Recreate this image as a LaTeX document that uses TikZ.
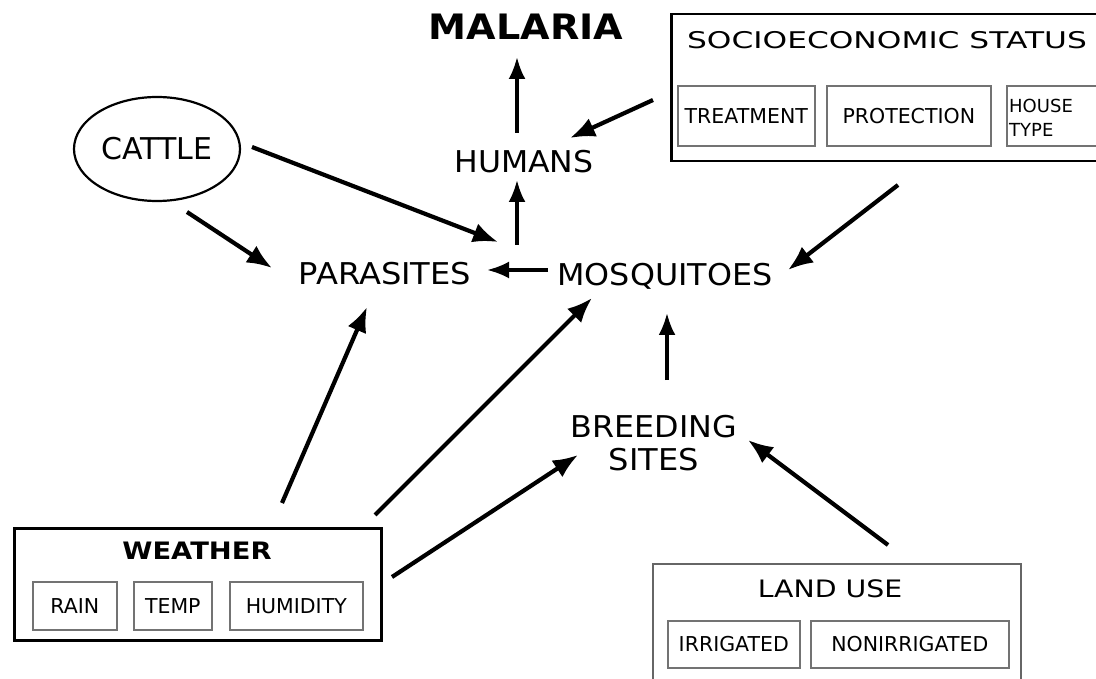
\documentclass[tikz,border=0pt]{standalone}
\usepackage{fontspec}
\setmainfont{DejaVu Sans}
\usepackage{graphicx}
\usetikzlibrary{arrows.meta,shapes.geometric,calc}
\begin{document}
\begin{tikzpicture}[x=1pt,y=-1pt,
  lbl/.style={inner sep=0pt, anchor=base, font=\fontsize{30}{33}\selectfont},
  small/.style={font=\fontsize{20.5}{24}\selectfont},
  outerbox/.style={draw, line width=2.5pt, inner sep=0pt, anchor=north west},
  innerbox/.style={draw=black!55, line width=1.6pt, inner sep=0pt, anchor=north west, small},
  arr/.style={line width=4.2pt, -{Latex[length=25pt,width=20pt]}},
  varr/.style={line width=3.4pt, -{Latex[length=22pt,width=17pt]}}]
\useasboundingbox (0,0) rectangle (1096,679);

% main labels
\node[lbl, font=\fontsize{35}{40}\selectfont\bfseries] (malaria) at (526,40) {\scalebox{1.09}[1]{MALARIA}};
\node[lbl] (humans) at (524,173) {\scalebox{1.05}[1]{HUMANS}};
\node[lbl] (parasites) at (385,285) {\scalebox{1.07}[1]{PARASITES}};
\node[lbl] (mosq) at (665,286) {\scalebox{1.06}[1]{MOSQUITOES}};
\node[inner sep=0pt, anchor=north, align=center, font=\fontsize{30}{33}\selectfont] (breeding) at (654,415) {\scalebox{1.06}[1]{BREEDING}\\\scalebox{1.07}[1]{SITES}};
\node[draw, ellipse, line width=2.2pt, minimum width=166pt, minimum height=104pt, inner sep=0pt, font=\fontsize{30}{33}\selectfont] (cattle) at (157,149) {CATTLE};

% socioeconomic status
\node[outerbox, minimum width=440pt, minimum height=147pt] (ses) at (670,13) {};
\node[lbl, font=\fontsize{23}{26}\selectfont] (sestitle) at (887,49) {\scalebox{1.36}[1]{SOCIOECONOMIC STATUS}};
\node[innerbox, minimum width=137pt, minimum height=60pt] (treat) at (677,85) {TREATMENT};
\node[innerbox, minimum width=164pt, minimum height=60pt] (prot) at (826,85) {PROTECTION};
\node[innerbox, minimum width=110pt, minimum height=60pt] (house) at (1006,85) {};
\node[inner sep=0pt, anchor=west, align=left, font=\fontsize{18}{24}\selectfont] (housetxt) at (1009,118) {HOUSE\\TYPE};

% weather
\node[outerbox, minimum width=367pt, minimum height=112pt] (weather) at (13,527) {};
\node[lbl, font=\fontsize{24}{28}\selectfont\bfseries] (weathertitle) at (197,559) {\scalebox{1.14}[1]{WEATHER}};
\node[innerbox, minimum width=84pt, minimum height=48pt] (rain) at (32,581) {RAIN};
\node[innerbox, minimum width=78pt, minimum height=48pt] (temp) at (133,581) {TEMP};
\node[innerbox, minimum width=133pt, minimum height=48pt] (humid) at (229,581) {HUMIDITY};

% land use
\node[outerbox, draw=black!60, line width=2.2pt, minimum width=368pt, minimum height=140pt] (landuse) at (652,563) {};
\node[lbl, font=\fontsize{24}{28}\selectfont] (landtitle) at (830,597) {\scalebox{1.18}[1]{LAND USE}};
\node[innerbox, minimum width=132pt, minimum height=47pt] (irr) at (667,620) {IRRIGATED};
\node[innerbox, minimum width=198pt, minimum height=47pt] (nonirr) at (810,620) {NONIRRIGATED};

% arrows
\draw[varr] ($(humans.base)+(-7,-40)$) -- ($(malaria.base)+(-9,17)$);
\draw[varr] ($(mosq.base)+(-148,-41)$) -- ($(humans.base)+(-7,7)$);
\draw[arr] ($(ses.north west)+(-17,87)$) -- ($(humans.base)+(46,-35)$);
\draw[arr] ($(cattle.center)+(95,-2)$) -- ($(mosq.base)+(-167,-44)$);
\draw[arr] ($(cattle.center)+(30,63)$) -- ($(parasites.base)+(-113,-17)$);
\draw[varr] ($(mosq.base)+(-117,-16)$) -- ($(parasites.base)+(102,-15)$);
\draw[arr] ($(ses.north west)+(228,172)$) -- ($(mosq.base)+(123,-16)$);
\draw[varr] ($(breeding.north)+(13,-35)$) -- ($(mosq.base)+(2,27)$);
\draw[arr] ($(weather.north west)+(269,-24)$) -- ($(parasites.base)+(-18,22)$);
\draw[arr] ($(weather.north west)+(362,-12)$) -- ($(mosq.base)+(-73,12)$);
\draw[arr] ($(weather.north west)+(379,50)$) -- ($(breeding.north)+(-76,40)$);
\draw[arr] ($(landuse.north west)+(236,-18)$) -- ($(breeding.north)+(94,25)$);
\end{tikzpicture}
\end{document}
